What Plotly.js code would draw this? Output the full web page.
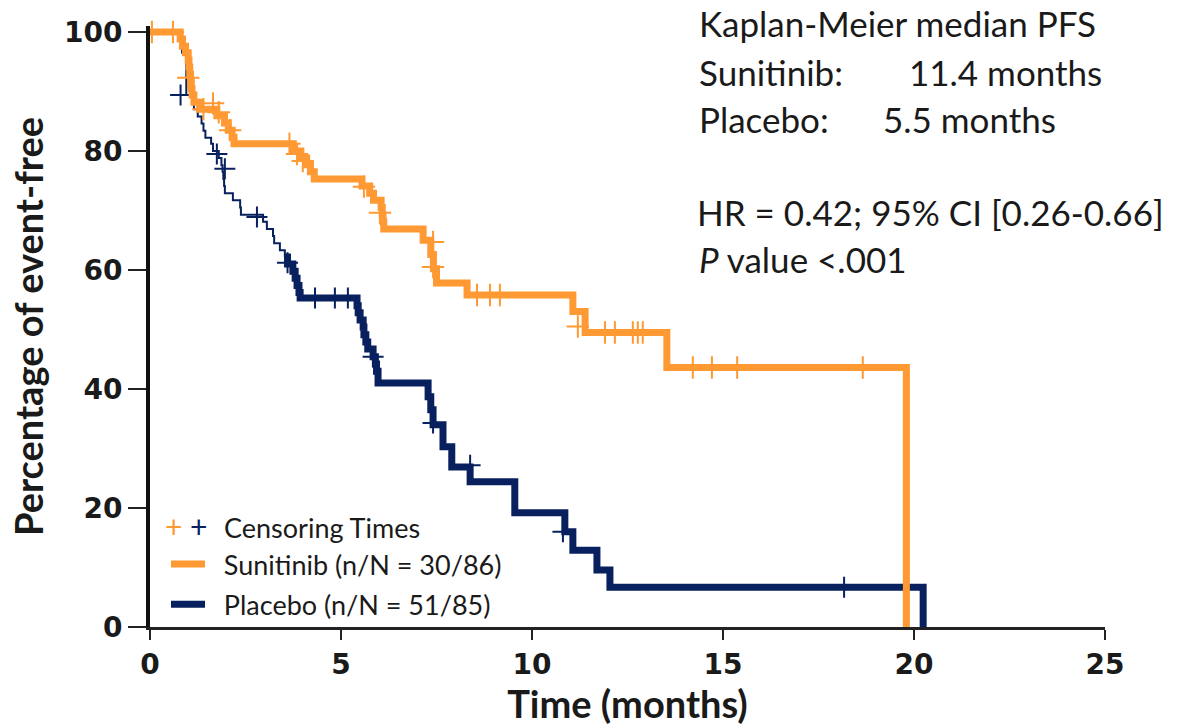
<!DOCTYPE html>
<html><head><meta charset="utf-8">
<script src="https://cdn.plot.ly/plotly-3.0.1.min.js"></script>
<style>html,body{margin:0;padding:0;background:#fff}</style>
</head><body><div id="chart" style="width:1177px;height:726px"></div>
<script>
// Sunitinib Kaplan-Meier steps (time in months, % event-free)
const sunTime = [0, 0.79, 0.85, 0.93, 1.0, 1.02, 1.04, 1.06, 1.08, 1.1, 1.15, 1.3, 1.75, 1.95, 2.05, 2.15, 2.2, 3.75, 3.95, 4.1, 4.2, 4.3, 5.55, 5.75, 5.85, 6.05, 6.08, 6.1, 6.12, 7.15, 7.35, 7.42, 7.5, 8.3, 11.07, 11.39, 13.53, 19.8];
const sunSurv = [100, 98.8, 97.6, 96.5, 95.3, 94.1, 92.9, 91.7, 90.5, 89.4, 88.2, 87.0, 85.9, 84.7, 83.5, 82.3, 81.2, 80.0, 78.8, 77.7, 76.5, 75.3, 74.1, 72.9, 71.7, 70.5, 69.3, 68.1, 66.9, 65.0, 62.6, 60.2, 57.8, 55.8, 53.0, 49.5, 43.6, 0];
const sunCensorTime = [0.05, 0.6, 1.0, 1.4, 1.65, 1.8, 2.1, 3.65, 3.85, 4.0, 5.6, 6.02, 7.41, 7.41, 8.56, 8.9, 9.16, 11.2, 11.91, 12.17, 12.64, 12.77, 12.9, 14.21, 14.71, 15.37, 18.66];
const sunCensorSurv = [100, 100, 92.3, 87.0, 88.0, 86.5, 83.5, 81.2, 79.5, 78.3, 74.0, 69.6, 64.7, 60.5, 55.8, 55.8, 55.8, 50.5, 49.5, 49.5, 49.5, 49.5, 49.5, 43.6, 43.6, 43.6, 43.6];

// Placebo Kaplan-Meier steps
const plaTime = [0, 0.84, 0.95, 1.1, 1.15, 1.25, 1.35, 1.4, 1.45, 1.6, 1.65, 1.8, 1.87, 1.9, 1.92, 1.94, 1.96, 2.17, 2.36, 2.38, 2.96, 3.06, 3.22, 3.25, 3.4, 3.53, 3.6, 3.74, 3.8, 3.85, 3.9, 3.93, 5.42, 5.45, 5.5, 5.58, 5.6, 5.65, 5.7, 5.84, 5.9, 5.93, 5.97, 7.28, 7.35, 7.41, 7.67, 7.9, 8.38, 9.55, 10.86, 11.07, 11.7, 12.04, 20.24];
const plaSurv = [100, 96.5, 89.4, 88.2, 87.0, 85.8, 84.6, 83.4, 82.2, 81.2, 80.0, 78.8, 77.6, 76.5, 75.3, 74.1, 72.9, 71.7, 70.5, 69.3, 68.1, 66.9, 65.7, 64.5, 63.3, 62.2, 61.0, 59.8, 58.6, 57.4, 56.2, 55.3, 54.0, 52.8, 51.6, 50.4, 49.1, 47.9, 46.7, 45.4, 44.2, 43.0, 41.0, 38.7, 36.5, 34.0, 30.3, 26.9, 24.4, 19.2, 16.0, 12.9, 9.6, 6.7, 0];
const plaCensorTime = [0.8, 1.75, 1.96, 2.8, 3.6, 4.32, 4.84, 5.18, 5.84, 7.41, 8.38, 10.81, 18.17];
const plaCensorSurv = [89.4, 79.5, 77.0, 68.9, 61.2, 55.3, 55.3, 55.3, 45.4, 34.3, 27.2, 16.0, 6.7];

const xTicks = [0, 5, 10, 15, 20, 25];
const yTicks = [0, 20, 40, 60, 80, 100];

const ORANGE = '#FF9933';
const NAVY = '#08215E';
const TEXT = '#1a1a1a';
const thinEnd = 3.53; // placebo line is drawn thin before this time
const NB = '\u00A0\u00A0';

const thinIdx = plaTime.map((t, i) => i).filter(i => plaTime[i] <= thinEnd);
const lastThin = thinIdx[thinIdx.length - 1];
const thickIdx = plaTime.map((t, i) => i).filter(i => i >= lastThin);

const traces = [
  {x: thinIdx.map(i => plaTime[i]), y: thinIdx.map(i => plaSurv[i]), type: 'scatter', mode: 'lines',
   line: {shape: 'hv', color: NAVY, width: 2}, showlegend: false, hoverinfo: 'skip'},
  {x: thickIdx.map(i => plaTime[i]), y: thickIdx.map(i => plaSurv[i]), type: 'scatter', mode: 'lines',
   line: {shape: 'hv', color: NAVY, width: 7}, name: NB + 'Placebo (n/N = 51/85)', legendrank: 3, legendgroup: 'c'},
  {x: plaCensorTime, y: plaCensorSurv, type: 'scatter', mode: 'markers', showlegend: false,
   marker: {symbol: 'cross-thin', size: 15, color: NAVY, line: {color: NAVY, width: 2}}, cliponaxis: false},
  {x: sunTime, y: sunSurv, type: 'scatter', mode: 'lines',
   line: {shape: 'hv', color: ORANGE, width: 7}, name: NB + 'Sunitinib (n/N = 30/86)', legendrank: 2, legendgroup: 'b'},
  {x: sunCensorTime, y: sunCensorSurv, type: 'scatter', mode: 'markers', showlegend: false,
   marker: {symbol: 'cross-thin', size: 16, color: ORANGE, line: {color: ORANGE, width: 2}}, cliponaxis: false}
];

const txtFont = {family: 'Lato, sans-serif', size: 35, color: TEXT};
function ann(text, xpx, ypx, extra) {
  return Object.assign({text: text, xref: 'paper', yref: 'paper', x: (xpx - 150) / 955, y: (627 - ypx) / 601,
    xanchor: 'left', yanchor: 'middle', showarrow: false, font: txtFont}, extra || {});
}
const legFont = {family: 'Lato, sans-serif', size: 27, color: TEXT};

const layout = {
  width: 1177, height: 726,
  margin: {l: 150, r: 72, t: 26, b: 99},
  paper_bgcolor: '#fff', plot_bgcolor: '#fff',
  showlegend: true,
  legend: {x: 16 / 955, y: (627 - 540) / 601, xanchor: 'left', yanchor: 'top', traceorder: 'grouped', tracegroupgap: 2,
    bgcolor: 'rgba(0,0,0,0)', itemwidth: 34, font: legFont},
  xaxis: {range: [0, 25], tickvals: xTicks, ticks: 'outside', ticklen: 10, tickwidth: 2, tickcolor: '#222',
    showline: true, linecolor: '#222', linewidth: 3, showgrid: false, zeroline: false,
    tickfont: {family: 'DejaVu Sans', size: 28, weight: 'bold', color: TEXT},
    title: {text: 'Time (months)', standoff: 6, font: {family: 'Lato, sans-serif', size: 38, weight: 'bold', color: TEXT}}},
  yaxis: {range: [0, 101], tickvals: yTicks, ticks: 'outside', ticklen: 18, tickwidth: 2, tickcolor: '#222',
    showline: true, linecolor: '#111', linewidth: 4, showgrid: false, zeroline: false,
    tickfont: {family: 'DejaVu Sans', size: 28, weight: 'bold', color: TEXT},
    title: {text: 'Percentage of event-free', standoff: 10, font: {family: 'Lato, sans-serif', size: 38, weight: 'bold', color: TEXT}}},
  annotations: [
    ann('Kaplan-Meier median PFS', 697, 23),
    ann('Sunitinib:', 697, 72),
    ann('11.4 months', 1104, 72, {xanchor: 'right'}),
    ann('Placebo:', 697, 119),
    ann('5.5 months', 1058, 119, {xanchor: 'right'}),
    ann('HR = 0.42; 95% CI [0.26-0.66]', 695, 212),
    ann('<i>P</i> value <.001', 697, 259),
    ann('+', 173, 526, {xanchor: 'center', font: {family: 'Lato, sans-serif', size: 30, color: ORANGE}}),
    ann('+', 198, 526, {xanchor: 'center', font: {family: 'Lato, sans-serif', size: 30, color: NAVY}}),
    ann('Censoring Times', 222, 527, {font: legFont})
  ]
};

Plotly.newPlot('chart', traces, layout, {displayModeBar: false, staticPlot: true});
</script>
</body></html>
